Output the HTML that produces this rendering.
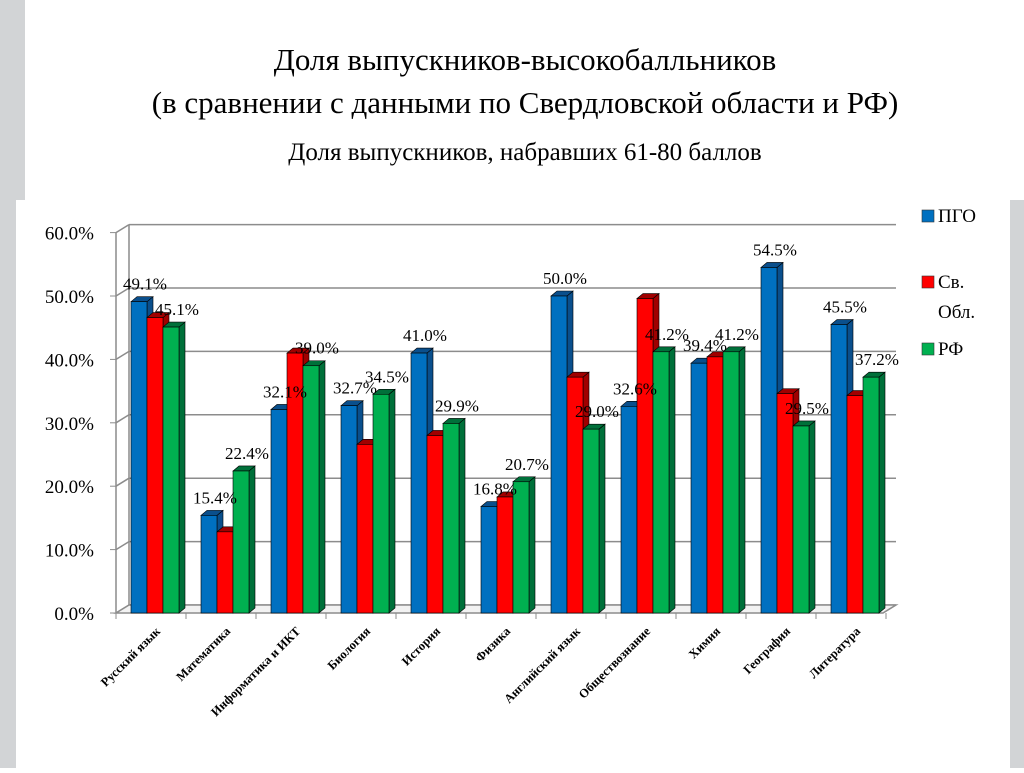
<!DOCTYPE html>
<html><head><meta charset="utf-8"><style>
body{margin:0;width:1024px;height:768px;overflow:hidden;background:#fff;font-family:"Liberation Serif",serif}
</style></head><body>
<svg width="1024" height="768" xmlns="http://www.w3.org/2000/svg">
<rect x="0" y="0" width="1024" height="768" fill="#fff"/>
<rect x="0" y="0" width="25" height="200" fill="#d2d4d6"/>
<rect x="0" y="200" width="16" height="568" fill="#d2d4d6"/>
<rect x="1010" y="200" width="14" height="568" fill="#d2d4d6"/>
<g font-family="Liberation Serif, serif" fill="#000" text-anchor="middle">
<text x="525" y="70" font-size="31">Доля выпускников-высокобалльников</text>
<text x="525" y="113" font-size="31">(в сравнении с данными по Свердловской области и РФ)</text>
<text x="525" y="160" font-size="25">Доля выпускников, набравших 61-80 баллов</text>
</g>
<g id="chart"></g>
</svg>
<script>
const categories=["Русский язык","Математика","Информатика и ИКТ","Биология","История","Физика","Английский язык","Обществознание","Химия","География","Литература"];
const pgo=[49.1,15.4,32.1,32.7,41.0,16.8,50.0,32.6,39.4,54.5,45.5];
const obl=[46.6,12.8,41.0,26.6,28.0,18.3,37.2,49.6,40.4,34.6,34.3];
const rf=[45.1,22.4,39.0,34.5,29.9,20.7,29.0,41.2,41.2,29.5,37.2];
const ticks=[0,10,20,30,40,50,60];
const seriesNames=["ПГО","Св. Обл.","РФ"];
const NS="http://www.w3.org/2000/svg";
const g=document.getElementById('chart');
function el(t,a,p){const e=document.createElementNS(NS,t);for(const k in a)e.setAttribute(k,a[k]);(p||g).appendChild(e);return e;}
const y0=613,k=6.34,dx=13,dy=-8;
const y=v=>y0-v*k;
const gx=i=>131+70*i;
// back wall & gridlines
ticks.forEach(t=>{
 const l=el('line',{x1:116+dx,y1:y(t)+dy,x2:896,y2:y(t)+dy,stroke:'#8c8c8c','stroke-width':1.5});
 
 
 el('line',{x1:116,y1:y(t),x2:116+dx,y2:y(t)+dy,stroke:'#8c8c8c','stroke-width':1.5});
 el('line',{x1:110,y1:y(t),x2:116,y2:y(t),stroke:'#8c8c8c'});
 const tx=el('text',{x:94,y:y(t)+7,'font-size':19,'text-anchor':'end','font-family':'Liberation Serif, serif'});
 tx.textContent=t.toFixed(1)+'%';
 
 
});
el('line',{x1:129,y1:y(60)+dy,x2:129,y2:y0+dy,stroke:'#8c8c8c','stroke-width':1.5});
el('line',{x1:116,y1:y(60),x2:116,y2:y0,stroke:'#8c8c8c','stroke-width':1.5});
el('polygon',{points:`116,${y0} ${116+dx},${y0+dy} 896,${y0+dy} 883,${y0}`,fill:'#f2f2f2',stroke:'#8c8c8c','stroke-width':1.5});
for(let i=0;i<=11;i++)el('line',{x1:116+70*i,y1:y0,x2:116+70*i,y2:y0+6,stroke:'#8c8c8c'});
const cols=[["#0070c0","#0a4f8c"],["#ff0000","#a00000"],["#00b050","#00703a"]];
const data=[pgo,obl,rf];
const bw=16,d=6,dh=5;
categories.forEach((c,i)=>{
 data.forEach((s,j)=>{
  const x=gx(i)+j*bw,top=y(s[i]);
  const b=el('g',{});
  
  
  el('polygon',{points:`${x+bw},${top} ${x+bw+d},${top-dh} ${x+bw+d},${y0-dh} ${x+bw},${y0}`,fill:cols[j][1],stroke:'#000','stroke-width':0.6},b);
  el('polygon',{points:`${x},${top} ${x+d},${top-dh} ${x+bw+d},${top-dh} ${x+bw},${top}`,fill:cols[j][1],stroke:'#000','stroke-width':0.6},b);
  el('rect',{x:x,y:top,width:bw,height:y0-top,fill:cols[j][0],stroke:'#000','stroke-width':0.6},b);
 });
 [[0,pgo],[2,rf]].forEach(([j,s])=>{
  const t=el('text',{x:gx(i)+j*bw+14,y:y(s[i])-12,'font-size':17,'text-anchor':'middle','font-family':'Liberation Serif, serif'});
  t.textContent=s[i].toFixed(1)+'%';
  
  
 });
 const cx=gx(i)+30,cy=632;
 const t=el('text',{x:cx,y:cy,'font-size':12.5,'font-weight':'bold','text-anchor':'end','font-family':'Liberation Serif, serif',transform:`rotate(-45 ${cx} ${cy})`});
 t.textContent=c;
 
 
});
// legend
const ly=[222,288,355];
seriesNames.forEach((n,j)=>{
 const lg=el('g',{});
 
 
 el('rect',{x:922,y:ly[j]-12,width:12,height:12,fill:cols[j][0],stroke:'#333','stroke-width':0.6},lg);
 const t=el('text',{x:938,y:ly[j],'font-size':19,'font-family':'Liberation Serif, serif'},lg);
 if(j==1){t.textContent='Св.';const t2=el('text',{x:938,y:ly[j]+30,'font-size':19,'font-family':'Liberation Serif, serif'},lg);t2.textContent='Обл.';}
 else t.textContent=n;
});
</script>
</body></html>
